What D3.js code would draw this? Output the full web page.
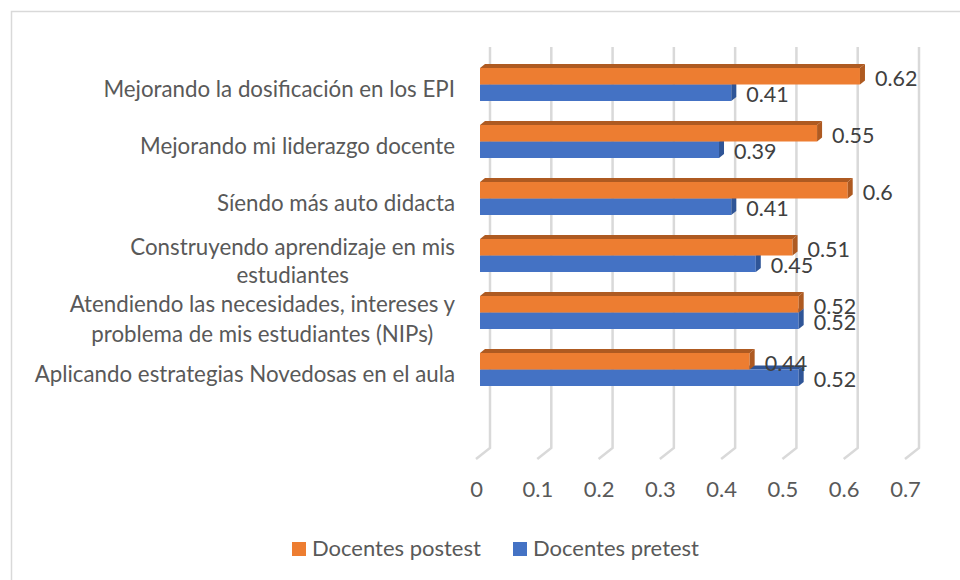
<!DOCTYPE html>
<html>
<head>
<meta charset="utf-8">
<script src="https://cdn.jsdelivr.net/npm/d3@7"></script>
<style>
	html, body { margin: 0; background: #fff; }
	text { font-family: Lato, sans-serif; fill: #595959; }
	.value text { fill: #404040; }
</style>
</head>
<body>
<div id="chart"></div>
<script>
const categories = [
	["Mejorando la dosificación en los EPI"],
	["Mejorando mi liderazgo docente"],
	["Síendo más auto didacta"],
	["Construyendo aprendizaje en mis", "estudiantes"],
	["Atendiendo las necesidades, intereses y", "problema de mis estudiantes (NIPs)"],
	["Aplicando estrategias Novedosas en el aula"],
];
const postest = [0.62, 0.55, 0.6, 0.51, 0.52, 0.44];
const pretest = [0.41, 0.39, 0.41, 0.45, 0.52, 0.52];
const xTicks = [0, 0.1, 0.2, 0.3, 0.4, 0.5, 0.6, 0.7];
const seriesNames = ["Docentes postest", "Docentes pretest"];

const orange = "#ed7d31", orangeDark = "#ae5a21", blue = "#4472c4", blueDark = "#2f5597";
const gridColor = "#d9d9d9";
const depthX = 5, depthY = 4;
const barH = 16.5;

const svg = d3.select("#chart").append("svg").attr("width", 960).attr("height", 580);

svg.append("path")
	.attr("d", "M11.5,580V11.5H960")
	.attr("fill", "none")
	.attr("stroke", "#d9d9d9")
	.attr("stroke-width", 1.5);

const x = d3.scaleLinear().domain([0, 0.7]).range([480, 909]);
const y = d3.scaleBand().domain(d3.range(categories.length)).range([68, 68 + 57 * categories.length]);

// back wall gridlines with the little floor step
const grid = svg.append("g");
xTicks.forEach((t) => {
	const gx = x(t) + 10;
	grid.append("path")
		.attr("d", `M${gx},47V448L${gx - 14},459`)
		.attr("fill", "none")
		.attr("stroke", gridColor)
		.attr("stroke-width", 2.5);
});

function bar(g, value, top, front, side) {
	const x0 = x(0), x1 = x(value);
	g.append("path")
		.attr("d", `M${x0},${top}L${x0 + depthX},${top - depthY}H${x1 + depthX}L${x1},${top}Z`)
		.attr("fill", side);
	g.append("rect").attr("x", x0).attr("y", top).attr("width", x1 - x0).attr("height", barH).attr("fill", front);
	g.append("path")
		.attr("d", `M${x1},${top}L${x1 + depthX},${top - depthY}V${top + barH - depthY}L${x1},${top + barH}Z`)
		.attr("fill", side);
}

const bars = svg.append("g");
categories.forEach((c, i) => {
	const g = bars.append("g");
	// blue is drawn first, the orange bar sits on top of it
	bar(g, pretest[i], y(i) + barH, blue, blueDark);
	bar(g, postest[i], y(i), orange, orangeDark);
});

// value labels
const labels = svg.append("g").attr("class", "value").attr("font-size", 21.5);
categories.forEach((c, i) => {
	labels.append("text").attr("x", x(postest[i]) + 15).attr("y", y(i) + 18).text(postest[i]);
	labels.append("text").attr("x", x(pretest[i]) + 15).attr("y", y(i) + 34).text(pretest[i]);
});

// category labels, each block ends at x=455 and its lines are centred inside it
const catLabels = svg.append("g").attr("font-size", 22.3).attr("text-anchor", "middle");
categories.forEach((c, i) => {
	const t = catLabels.append("text");
	const first = c.length > 1 ? y(i) + 15.5 : y(i) + 29;
	const spans = c.map((line, j) => t.append("tspan").attr("y", first + j * (i === 4 ? 30 : 28)).text(line));
	const widest = d3.max(spans, (s) => s.node().getComputedTextLength());
	spans.forEach((s) => s.attr("x", 455 - widest / 2));
});

// x axis labels
const axis = d3.axisBottom(x).tickValues(xTicks).tickSize(0).tickFormat((d) => d);
const axisG = svg.append("g").attr("transform", "translate(-4,478.5)").call(axis);
axisG.select(".domain").remove();
axisG.selectAll("text").attr("font-size", 22);

// legend
const legend = svg.append("g").attr("font-size", 22);
[[292, 312, orange], [513, 533, blue]].forEach((l, i) => {
	legend.append("rect").attr("x", l[0]).attr("y", 542).attr("width", 14).attr("height", 14).attr("fill", l[2]);
	legend.append("text").attr("x", l[1]).attr("y", 556).text(seriesNames[i]);
});
</script>
</body>
</html>
